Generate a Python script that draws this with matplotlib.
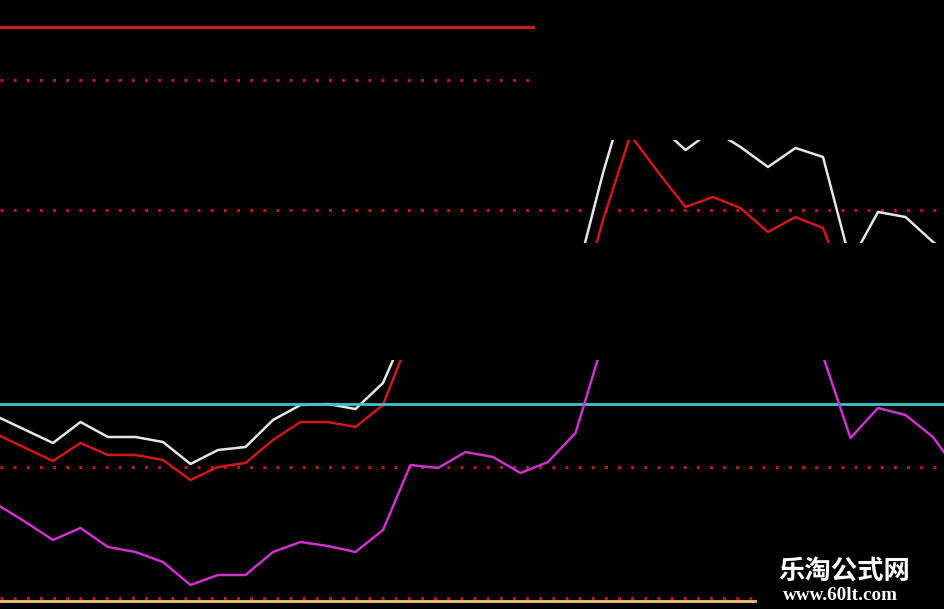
import numpy as np
import matplotlib
matplotlib.use("Agg")
import matplotlib.pyplot as plt
from matplotlib.patches import Rectangle

nan = np.nan

# screen-row levels (0 = top), one value per bar
white = [417, 430, 443, 422, 437, 437, 442, 464, 450, 447, 420, 405, 404, 409, 383, 320,
         nan, nan, nan, nan, nan, 280, 173, 80, 125, 150, 130, 147, 167, 148, 157, 262,
         212, 217, 242, 262]
red = [435, 448, 461, 443, 455, 455, 460, 480, 467, 463, 440, 422, 422, 427, 405, 335,
       nan, nan, nan, nan, nan, 320, 220, 135, 172, 207, 197, 208, 232, 217, 228, 300,
       nan, nan, nan, nan]
magenta = [505, 522, 540, 528, 547, 552, 562, 585, 575, 575, 552, 542, 546, 552, 530, 465,
           468, 452, 457, 473, 462, 433, 342, nan, nan, nan, nan, nan, nan, nan, 356, 438,
           408, 415, 437, 475]

# reference levels
top_red = 27
dot_levels = [80, 210, 467, 598]
cyan_level = 404
bottom_level = 601

# visible windows (upper and lower pane)
upper_pane = (140, 243)
lower_pane = (360, 609)

bars = np.arange(len(white))

fig = plt.figure(figsize=(9.45, 6.09), dpi=100)
fig.patch.set_facecolor('black')
ax = fig.add_axes([0, 0, 1, 1])
ax.set_facecolor('black')
ax.set_xlim(2 / 27.5, 947 / 27.5)
ax.set_ylim(609, 0)
ax.axis('off')

dot_red = '#B8142C'
ax.axhline(top_red, xmin=0, xmax=533 / 945, color='#CC1A14', lw=2.2, zorder=2)
ax.axhline(dot_levels[0], xmin=0, xmax=533 / 945, color=dot_red, lw=2.2,
           ls=(0, (1, 3.3)), zorder=2)
ax.axhline(dot_levels[1], color=dot_red, lw=2.2, ls=(0, (1, 3.3)), zorder=2)
ax.axhline(dot_levels[2], color=dot_red, lw=2.2, ls=(0, (1, 3.3)), zorder=2)
ax.axhline(dot_levels[3], xmin=0, xmax=755 / 945, color=dot_red, lw=2.2,
           ls=(0, (1, 3.3)), zorder=2)
ax.axhline(bottom_level, xmin=0, xmax=755 / 945, color='#F0C878', lw=2, zorder=3)


def pane_clip(lo, hi):
    r = Rectangle((-5, lo), 50, hi - lo, transform=ax.transData)
    return r


for pane in (upper_pane, lower_pane):
    l1, = ax.plot(bars, white, color='#E6E6E6', lw=1.8, zorder=4)
    l1.set_clip_path(pane_clip(*pane))
    l2, = ax.plot(bars, red, color='#D01818', lw=1.8, zorder=4)
    l2.set_clip_path(pane_clip(*pane))

ax.axhline(cyan_level, color='#40C4CC', lw=2, zorder=5)

l3, = ax.plot(bars, magenta, color='#CC33CC', lw=1.8, zorder=6)
l3.set_clip_path(pane_clip(*lower_pane))

fig.text(844 / 945, 1 - 571 / 609, '乐淘公式网', color='white', fontsize=19,
         fontweight='bold', family=['Noto Sans CJK SC', 'DejaVu Sans'],
         ha='center', va='center')
fig.text(840 / 945, 1 - 596 / 609, 'www.60lt.com', color='white', fontsize=13.8,
         fontweight='bold', family='Liberation Serif', ha='center', va='center')

fig.savefig('out.png', dpi=100, facecolor='black')
